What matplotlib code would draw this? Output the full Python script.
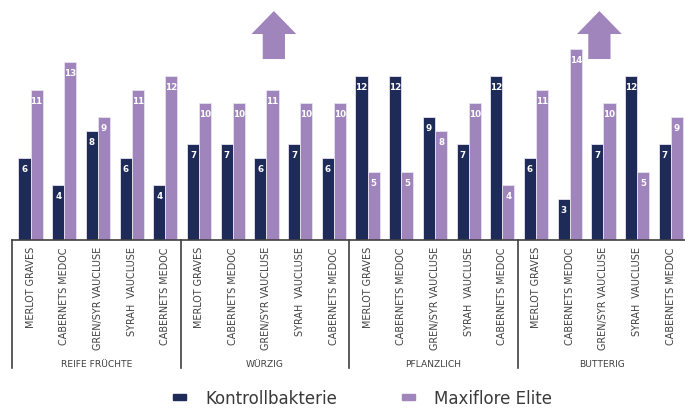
import matplotlib
matplotlib.use("Agg")
import matplotlib.pyplot as plt
import numpy as np
from matplotlib.patches import FancyArrow

groups = ["REIFE FRÜCHTE", "WÜRZIG", "PFLANZLICH", "BUTTERIG"]
varieties = ["MERLOT GRAVES", "CABERNETS MEDOC", "GREN/SYR VAUCLUSE",
             "SYRAH  VAUCLUSE", "CABERNETS MEDOC"]
kontroll = [6, 4, 8, 6, 4,
            7, 7, 6, 7, 6,
            12, 12, 9, 7, 12,
            6, 3, 7, 12, 7]
maxiflore = [11, 13, 9, 11, 12,
             10, 10, 11, 10, 10,
             5, 5, 8, 10, 4,
             11, 14, 10, 5, 9]
series_names = ["Kontrollbakterie", "Maxiflore Elite"]

dark = "#1E2B58"
purple = "#A084BC"
gray = "#404040"

fig = plt.figure(figsize=(6.85, 4.11), dpi=100)
ax = fig.add_axes([12/685, 1 - 240/411, 674/685, 240/411])

n = len(kontroll)
x = np.arange(n)
w = 0.36
off = 0.05
b1 = ax.bar(x - w/2 + off, kontroll, w, color=dark, edgecolor="#E8E2F0", linewidth=0.6)
b2 = ax.bar(x + w/2 + off, maxiflore, w, color=purple, edgecolor="#E8E2F0", linewidth=0.6)

for bars, vals in ((b1, kontroll), (b2, maxiflore)):
    for r, v in zip(bars, vals):
        ax.text(r.get_x() + r.get_width()/2, v - 0.85, str(v), ha="center", va="center",
                color="white", fontsize=6.3, fontweight="bold")

ax.set_xlim(-0.5, n - 0.5)
ax.set_ylim(0, 17.56)
for s in ["left", "right", "top"]:
    ax.spines[s].set_visible(False)
ax.spines["bottom"].set_color(gray)
ax.spines["bottom"].set_linewidth(1.2)
ax.set_yticks([])
ax.set_xticks([])

trans = ax.get_xaxis_transform()
# category labels
for i in range(n):
    ax.text(x[i] + 0.05, -0.03, varieties[i % len(varieties)], transform=trans,
            rotation=90, ha="center", va="top", fontsize=6.9, color=gray)
# group labels and separators
for g, name in enumerate(groups):
    ax.text(g*5 + 2, -0.52, name, transform=trans, ha="center", va="center",
            fontsize=6.6, color=gray)
for sx in [-0.5, 4.5, 9.5, 14.5, 19.5]:
    ax.plot([sx, sx], [0, -0.535], transform=trans, color=gray, lw=1.2,
            clip_on=False)

# arrows
for ax_x in [7.27, 16.93]:
    arr = FancyArrow(ax_x, (240-59)/13.67, 0, (59-11)/13.67,
                     width=0.66, head_width=1.33, head_length=(34-11)/13.67,
                     length_includes_head=True, color=purple, lw=0)
    ax.add_patch(arr)

# legend
lx = [173/685, 402/685]
for xx, col, name in zip(lx, [dark, purple], series_names):
    fig.patches.append(plt.Rectangle((xx, 1 - 400/411), 13/685, 6/411,
                                     transform=fig.transFigure, color=col))
    fig.text(xx + 32/685, 1 - 399/411, name, fontsize=12, color="#3a3a3a",
             va="center", ha="left")

fig.savefig("out.png", dpi=100)
